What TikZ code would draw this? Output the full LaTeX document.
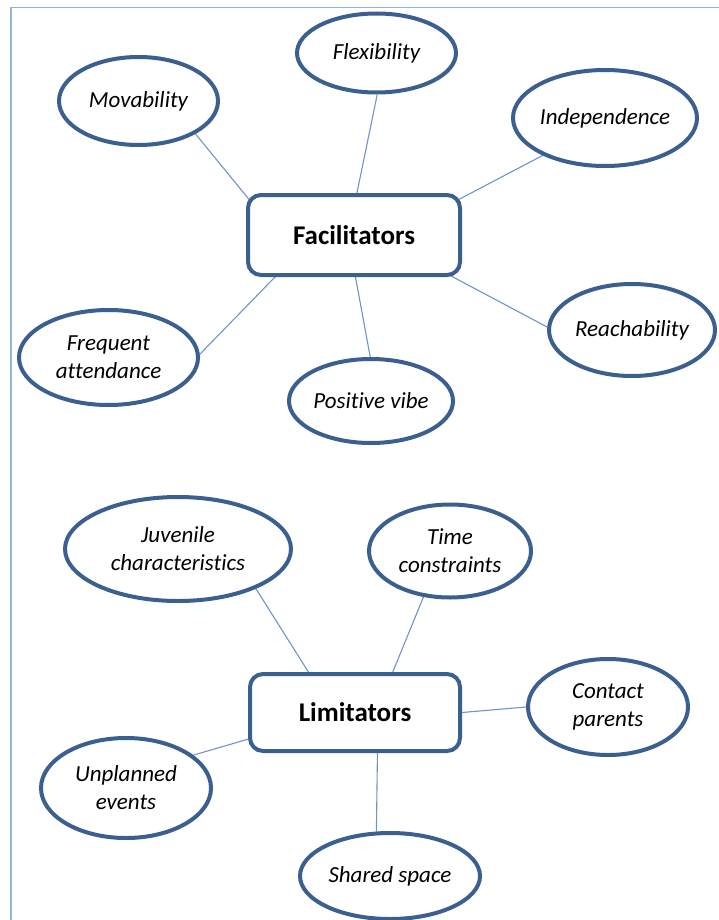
\documentclass[tikz,border=0pt]{standalone}
\usepackage{fontspec}
\setmainfont[Ligatures=NoCommon]{Carlito}
\usetikzlibrary{shapes.geometric,backgrounds}
\definecolor{ringblue}{HTML}{3B5F8E}
\definecolor{linkblue}{HTML}{7094C8}
\definecolor{frameblue}{HTML}{95B3D7}
\tikzset{
  bubble/.style={ellipse, draw=ringblue, line width=4pt, fill=white, inner sep=0pt,
    align=center, font=\fontsize{23}{28}\selectfont\itshape, text=black},
  hub/.style={rectangle, rounded corners=13pt, draw=ringblue, line width=4pt, fill=white,
    inner sep=0pt, minimum width=212pt, font=\fontsize{27}{30}\selectfont\bfseries, text=black},
  link/.style={draw=linkblue, line width=1.1pt, shorten >=-8pt},
  framing/.style={draw=frameblue, line width=1.2pt}
}
\begin{document}
\begin{tikzpicture}[x=1pt,y=-1pt]
\useasboundingbox (0,0) rectangle (719,920);
\draw[framing] (11,921) -- (11,7.5) -- (720,7.5);

% Facilitators
\node[hub, minimum height=80pt] (fac) at (354,235) {Facilitators};
\node[bubble, minimum width=159pt, minimum height=88pt] (mov) at (138.5,101) {Movability};
\node[bubble, minimum width=159pt, minimum height=79pt] (flex) at (376.5,53) {Flexibility};
\node[bubble, minimum width=172pt, minimum height=96pt] (ind) at (605,118) {Independence};
\node[bubble, minimum width=166pt, minimum height=92pt] (reach) at (632,330) {Reachability};
\node[bubble, minimum width=164pt, minimum height=84pt] (pos) at (371,401) {Positive vibe};
\node[bubble, minimum width=179pt, minimum height=95pt] (freq) at (108.5,357.5) {Frequent\\attendance};

% Limitators
\node[hub, minimum width=210pt, minimum height=77pt] (lim) at (355,712.5) {Limitators};
\node[bubble, minimum width=226pt, minimum height=104pt] (juv) at (178,549) {Juvenile\\characteristics};
\node[bubble, minimum width=162pt, minimum height=93pt] (time) at (450,551) {Time\\constraints};
\node[bubble, minimum width=160pt, minimum height=96pt] (cont) at (608,707) {Contact\\parents};
\node[bubble, minimum width=170pt, minimum height=100pt] (unpl) at (126,788) {Unplanned\\events};
\node[bubble, minimum width=180pt, minimum height=86pt] (shared) at (390,876) {Shared space};

\begin{pgfonlayer}{background}
  \draw[link] (mov.-30) -- (fac.160.6);
  \draw[link] (flex.-89) -- (fac.86);
  \draw[link] (ind.-149) -- (fac.19.7);
  \draw[link] (reach.178) -- (fac.-23);
  \draw[link] (pos.91) -- (fac.-88);
  \draw[link] (freq.2) -- (fac.-152);
  \draw[link] (juv.-27) -- (lim.139.3);
  \draw[link] (time.-120) -- (lim.47.6);
  \draw[link] (cont.180) -- (lim.0);
  \draw[link] (unpl.26) -- (lim.-166.7);
  \draw[link] (shared.107.6) -- (lim.-61);
\end{pgfonlayer}
\end{tikzpicture}
\end{document}
